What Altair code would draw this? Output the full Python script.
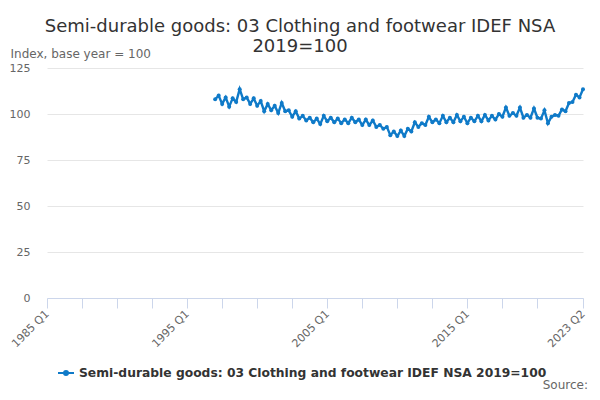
import altair as alt
import pandas as pd

# Quarterly values, 1997 Q1 .. 2023 Q2
start_year = 1997
values = [
    108.0, 110.0, 105.5, 109.0,   # 1997
    104.0, 108.5, 106.5, 113.5,   # 1998
    108.0, 109.0, 105.5, 108.5,   # 1999
    104.5, 107.0, 101.5, 105.5,   # 2000
    102.0, 104.5, 100.5, 106.0,   # 2001
    101.5, 102.0, 98.5, 101.5,    # 2002
    97.5, 99.0, 96.5, 98.0,       # 2003
    95.5, 97.5, 94.5, 99.0,       # 2004
    96.0, 98.0, 95.5, 97.5,       # 2005
    95.0, 97.0, 95.0, 98.0,       # 2006
    95.5, 97.0, 94.0, 97.0,       # 2007
    94.0, 96.5, 93.0, 94.0,       # 2008
    92.0, 93.0, 88.5, 90.5,       # 2009
    88.0, 91.0, 88.0, 92.0,       # 2010
    90.5, 95.5, 93.0, 95.0,       # 2011
    94.0, 98.5, 95.5, 97.0,       # 2012
    95.0, 99.0, 95.5, 98.0,       # 2013
    95.5, 99.5, 96.0, 98.5,       # 2014
    95.0, 98.0, 96.0, 99.0,       # 2015
    96.0, 99.5, 96.5, 99.0,       # 2016
    97.0, 100.0, 98.5, 103.5,     # 2017
    99.0, 100.5, 99.0, 103.5,     # 2018
    98.0, 99.5, 98.0, 103.0,      # 2019
    98.0, 97.5, 102.0, 95.0,      # 2020
    98.5, 99.5, 99.0, 102.5,      # 2021
    101.5, 106.0, 106.5, 110.5,   # 2022
    109.0, 113.5,                 # 2023
]
series_name = "Semi-durable goods: 03 Clothing and footwear IDEF NSA 2019=100"
y_ticks = [0, 25, 50, 75, 100, 125]
x_ticks = [1985 + 2.5 * k for k in range(15)] + [2023.25]

t = [start_year + i / 4 for i in range(len(values))]
df = pd.DataFrame({"t": t, "value": values, "series": series_name})

blue = "#0f7ac8"
grey = "#666666"

line = alt.Chart(df).mark_line(
    strokeWidth=2.4,
    point=alt.OverlayMarkDef(filled=True, size=16, color=blue),
).encode(
    x=alt.X(
        "t:Q",
        scale=alt.Scale(domain=[1985, 2023.25], nice=False, zero=False),
        axis=alt.Axis(
            values=x_ticks,
            labelExpr="datum.value == 2023.25 ? '2023 Q2' : (datum.value % 10 == 5 ? floor(datum.value) + ' Q1' : '')",
            labelAngle=-45,
            labelAlign="right",
            labelBaseline="middle",
            labelPadding=4,
            labelFontSize=11,
            labelColor=grey,
            labelFont="DejaVu Sans",
            domainColor="#ccd6eb",
            tickColor="#ccd6eb",
            tickSize=10,
            grid=False,
            title=None,
            labelOverlap=False,
        ),
    ),
    y=alt.Y(
        "value:Q",
        scale=alt.Scale(domain=[0, 125], nice=False),
        axis=alt.Axis(
            values=y_ticks,
            grid=True,
            gridColor="#e6e6e6",
            domain=False,
            ticks=False,
            labelPadding=17,
            labelFontSize=11,
            labelColor=grey,
            labelFont="DejaVu Sans",
            title="Index, base year = 100",
            titleAngle=0,
            titleAlign="left",
            titleBaseline="alphabetic",
            titleX=-37,
            titleY=-11,
            titleFontWeight="normal",
            titleFontSize=12,
            titleColor=grey,
            titleFont="DejaVu Sans",
        ),
    ),
    color=alt.Color(
        "series:N",
        scale=alt.Scale(range=[blue]),
        legend=alt.Legend(
            title=None,
            orient="none",
            legendX=10,
            legendY=296,
            symbolType="M-1,0L1,0M-0.25,0A0.25,0.25 0 1,0 0.25,0A0.25,0.25 0 1,0 -0.25,0",
            symbolSize=256,
            symbolStrokeWidth=2,
            symbolFillColor=blue,
            symbolStrokeColor=blue,
            labelFontSize=12.3,
            labelFontWeight="bold",
            labelColor="#333333",
            labelFont="DejaVu Sans",
            labelLimit=600,
        ),
    ),
)

source = alt.Chart(pd.DataFrame({"s": ["Source:"]})).mark_text(
    align="right", baseline="alphabetic", fontSize=12, color=grey, font="DejaVu Sans"
).encode(text="s:N", x=alt.value(541), y=alt.value(321))

chart = alt.layer(line, source).properties(
    width=536,
    height=230,
    autosize=alt.AutoSizeParams(type="none"),
    padding={"left": 39, "top": 60, "right": 9, "bottom": 94},
    title=alt.TitleParams(
        text=["Semi-durable goods: 03 Clothing and footwear IDEF NSA", "2019=100"],
        anchor="middle",
        fontSize=18,
        fontWeight="normal",
        color="#333333",
        font="DejaVu Sans",
        dx=-15,
        dy=17,
        offset=8,
        lineHeight=20,
    ),
).configure_view(stroke=None)

chart.save("out.html", embed_options={"renderer": "svg", "actions": False})
